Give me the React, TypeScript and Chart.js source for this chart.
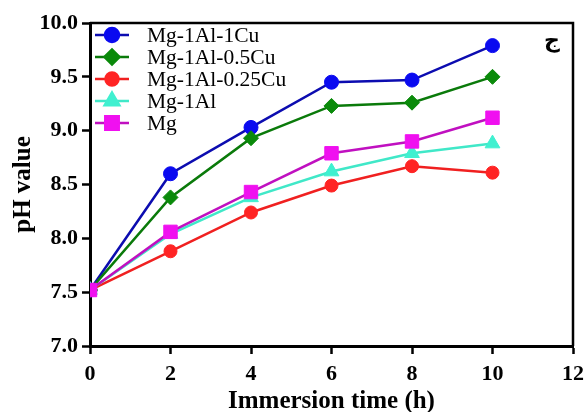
import React, { useEffect, useRef } from "react";
import { Chart, registerables } from "chart.js";
import { drawPoint } from "chart.js/helpers";

Chart.register(...registerables);

const times = [0, 2, 4, 6, 8, 10];
const seriesNames = ["Mg-1Al-1Cu", "Mg-1Al-0.5Cu", "Mg-1Al-0.25Cu", "Mg-1Al", "Mg"];
const mg1Al1Cu = [7.52, 8.6, 9.03, 9.45, 9.47, 9.79];
const mg1Al05Cu = [7.52, 8.38, 8.93, 9.23, 9.26, 9.5];
const mg1Al025Cu = [7.52, 7.88, 8.24, 8.49, 8.67, 8.61];
const mg1Al = [7.52, 8.04, 8.38, 8.62, 8.79, 8.88];
const mg = [7.52, 8.06, 8.43, 8.79, 8.9, 9.12];
const yTicks = [7.0, 7.5, 8.0, 8.5, 9.0, 9.5, 10.0];
const xTicks = [0, 2, 4, 6, 8, 10, 12];
const cornerLabel = "ج";

const SERIF = "'Liberation Serif', 'Times New Roman', serif";

const styles = [
  { line: "#0c0cb0", fill: "#0a0af0", point: "circle", radius: 7 },
  { line: "#0a7a0a", fill: "#0a8a0a", point: "rectRot", radius: 7.5 },
  { line: "#f02020", fill: "#ff2424", point: "circle", radius: 6.5 },
  { line: "#40e8c8", fill: "#40f0d0", point: "triangle", radius: 8.5 },
  { line: "#c010c0", fill: "#f010f0", point: "rect", radius: 9.5 },
];

const seriesValues = [mg1Al1Cu, mg1Al05Cu, mg1Al025Cu, mg1Al, mg];

const framePlugin = {
  id: "frameAndLegend",
  afterDraw(chart: any) {
    const { ctx, chartArea } = chart;
    ctx.save();
    ctx.strokeStyle = "#000";
    ctx.lineWidth = 2.5;
    ctx.beginPath();
    ctx.moveTo(chartArea.left, chartArea.top);
    ctx.lineTo(chartArea.right, chartArea.top);
    ctx.lineTo(chartArea.right, chartArea.bottom);
    ctx.stroke();

    const rowY0 = 35;
    const rowH = 22;
    chart.data.datasets.forEach((ds: any, i: number) => {
      const y = rowY0 + i * rowH;
      ctx.strokeStyle = ds.borderColor;
      ctx.lineWidth = 2.5;
      ctx.beginPath();
      ctx.moveTo(95, y);
      ctx.lineTo(129, y);
      ctx.stroke();
      ctx.fillStyle = ds.pointBackgroundColor;
      ctx.strokeStyle = ds.pointBorderColor;
      drawPoint(ctx, { pointStyle: ds.pointStyle, rotation: 0, radius: ds.pointRadius, borderWidth: 1 }, 112, y);
      ctx.fillStyle = "#000";
      ctx.font = `21.5px ${SERIF}`;
      ctx.textBaseline = "middle";
      ctx.textAlign = "left";
      ctx.fillText(ds.label, 147, y + 1);
    });

    ctx.fillStyle = "#000";
    ctx.font = `bold 22px 'DejaVu Sans', sans-serif`;
    ctx.textAlign = "center";
    ctx.textBaseline = "middle";
    ctx.fillText(cornerLabel, 552, 41);
    ctx.restore();
  },
};

export default function App() {
  const ref = useRef<HTMLCanvasElement>(null);
  useEffect(() => {
    document.body.style.margin = "0";
    const datasets = seriesNames.map((name, i) => ({
      label: name,
      data: times.map((t, j) => ({ x: t, y: seriesValues[i][j] })),
      borderColor: styles[i].line,
      backgroundColor: styles[i].fill,
      pointBackgroundColor: styles[i].fill,
      pointBorderColor: styles[i].fill,
      pointBorderWidth: 1,
      pointStyle: styles[i].point,
      pointRadius: styles[i].radius,
      borderWidth: 2.5,
      tension: 0,
      order: seriesNames.length - 1 - i,
    }));
    const chart = new Chart(ref.current!, {
      type: "line",
      data: { datasets },
      options: {
        animation: false,
        responsive: false,
        devicePixelRatio: 1,
        layout: { padding: { top: 23, right: 12, left: 0, bottom: 0 } },
        plugins: { legend: { display: false }, tooltip: { enabled: false } },
        scales: {
          x: {
            type: "linear",
            min: 0,
            max: 12,
            afterFit: (s: any) => { s.height = 66; s.paddingLeft = 0; s.paddingRight = 0; },
            afterBuildTicks: (s: any) => { s.ticks = xTicks.map((v) => ({ value: v })); },
            ticks: {
              color: "#000",
              font: { family: SERIF, size: 22, weight: "bold" },
              padding: 7,
              maxRotation: 0,
              autoSkip: false,
            },
            grid: { drawOnChartArea: false, drawTicks: true, tickLength: 8, tickWidth: 2.5, tickColor: "#000" },
            border: { display: true, color: "#000", width: 3 },
            title: {
              display: true,
              text: "Immersion time (h)",
              color: "#000",
              font: { family: SERIF, size: 25, weight: "bold", lineHeight: 0.8 },
              padding: { top: 0, bottom: 0 },
            },
          },
          y: {
            type: "linear",
            min: 7,
            max: 10,
            afterFit: (s: any) => { s.width = 90; s.paddingTop = 0; s.paddingBottom = 0; },
            afterBuildTicks: (s: any) => { s.ticks = yTicks.map((v) => ({ value: v })); },
            ticks: {
              color: "#000",
              font: { family: SERIF, size: 22, weight: "bold" },
              padding: 4,
              callback: (v: any) => Number(v).toFixed(1),
            },
            grid: { drawOnChartArea: false, drawTicks: true, tickLength: 8, tickWidth: 2.5, tickColor: "#000" },
            border: { display: true, color: "#000", width: 3 },
            title: {
              display: true,
              text: "pH value",
              color: "#000",
              font: { family: SERIF, size: 25, weight: "bold" },
              padding: { top: 9, bottom: 0 },
            },
          },
        },
      },
      plugins: [framePlugin],
    });
    return () => chart.destroy();
  }, []);
  return (
    <div style={{ position: "absolute", left: 0, top: 0, width: 585, height: 412 }}>
      <canvas ref={ref} width={585} height={412} style={{ width: 585, height: 412 }} />
    </div>
  );
}
